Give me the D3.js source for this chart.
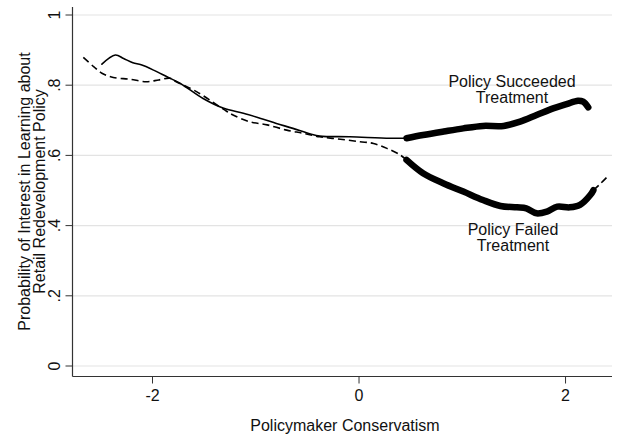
<!DOCTYPE html>
<html>
<head>
<meta charset="utf-8">
<script src="https://cdn.jsdelivr.net/npm/d3@7"></script>
<style>
  body { margin: 0; background: #fff; }
  svg text { font-family: "Liberation Sans", Arial, sans-serif; fill: #111; }
</style>
</head>
<body>
<svg width="618" height="436"></svg>
<script>
// tick values
var xTicks = [-2, 0, 2];
var yTicks = [0, 0.2, 0.4, 0.6, 0.8, 1];
var yTickLabels = ["0", ".2", ".4", ".6", ".8", "1"];

// Policy succeeded treatment (solid), thin part then thick part
var succThinX = [-2.49, -2.36, -2.28, -2.19, -2.11, -1.99, -1.86, -1.73, -1.51, -1.31, -1.12, -0.96, -0.80, -0.64, -0.47, -0.38, -0.09, 0.30, 0.46];
var succThinY = [0.860, 0.886, 0.876, 0.864, 0.858, 0.843, 0.824, 0.805, 0.762, 0.734, 0.720, 0.706, 0.691, 0.677, 0.661, 0.655, 0.653, 0.649, 0.649];
var succThickX = [0.46, 0.62, 0.82, 1.01, 1.20, 1.40, 1.56, 1.72, 1.88, 2.01, 2.12, 2.17, 2.22];
var succThickY = [0.649, 0.658, 0.668, 0.677, 0.684, 0.684, 0.696, 0.715, 0.734, 0.746, 0.756, 0.753, 0.737];

// Policy failed treatment (dashed), thin, thick, thin tail
var failThinX = [-2.67, -2.57, -2.49, -2.38, -2.22, -2.06, -1.94, -1.83, -1.77, -1.57, -1.31, -1.22, -1.06, -0.89, -0.70, -0.54, -0.38, -0.18, 0.01, 0.14, 0.27, 0.40, 0.46];
var failThinY = [0.879, 0.853, 0.834, 0.822, 0.817, 0.810, 0.815, 0.820, 0.810, 0.781, 0.731, 0.715, 0.696, 0.687, 0.672, 0.663, 0.653, 0.646, 0.639, 0.634, 0.620, 0.601, 0.587];
var failThickX = [0.46, 0.62, 0.82, 1.01, 1.20, 1.37, 1.53, 1.62, 1.72, 1.82, 1.92, 2.04, 2.14, 2.24, 2.27];
var failThickY = [0.587, 0.549, 0.520, 0.497, 0.473, 0.456, 0.452, 0.449, 0.435, 0.440, 0.454, 0.452, 0.459, 0.487, 0.501];
var failTailX = [2.27, 2.34, 2.42];
var failTailY = [0.501, 0.520, 0.544];

var svg = d3.select("svg");

var x = d3.scaleLinear().domain([-2.77, 2.45]).range([73, 612]);
var y = d3.scaleLinear().domain([0, 1]).range([366, 15]);

var axisY = 376.5, axisX = 72.5;

// 网格线
svg.append("g").selectAll("line")
  .data(yTicks)
  .enter().append("line")
  .attr("x1", axisX).attr("x2", 612)
  .attr("y1", function (d) { return y(d); })
  .attr("y2", function (d) { return y(d); })
  .style("stroke", "#e3e3e3")
  .style("stroke-width", 1.2);

// y 轴
svg.append("line")
  .attr("x1", axisX).attr("x2", axisX)
  .attr("y1", 7).attr("y2", axisY)
  .style("stroke", "#333").style("stroke-width", 1.2);

svg.append("g").selectAll("line")
  .data(yTicks)
  .enter().append("line")
  .attr("x1", axisX - 7).attr("x2", axisX)
  .attr("y1", function (d) { return y(d); })
  .attr("y2", function (d) { return y(d); })
  .style("stroke", "#333");

svg.append("g").selectAll("text")
  .data(yTicks)
  .enter().append("text")
  .attr("transform", function (d) { return "translate(60," + y(d) + ") rotate(-90)"; })
  .attr("text-anchor", "middle")
  .style("font-size", "16px")
  .text(function (d, i) { return yTickLabels[i]; });

// y 轴标题
svg.append("text")
  .attr("transform", "translate(30,191.5) rotate(-90)")
  .attr("text-anchor", "middle")
  .style("font-size", "16px")
  .text("Probability of Interest in Learning about");
svg.append("text")
  .attr("transform", "translate(45,191.5) rotate(-90)")
  .attr("text-anchor", "middle")
  .style("font-size", "16px")
  .text("Retail Redevelopment Policy");

// x 轴
svg.append("line")
  .attr("x1", axisX).attr("x2", 612)
  .attr("y1", axisY).attr("y2", axisY)
  .style("stroke", "#333").style("stroke-width", 1.2);

svg.append("g").selectAll("line")
  .data(xTicks)
  .enter().append("line")
  .attr("x1", function (d) { return x(d); })
  .attr("x2", function (d) { return x(d); })
  .attr("y1", axisY).attr("y2", axisY + 7)
  .style("stroke", "#333");

svg.append("g").selectAll("text")
  .data(xTicks)
  .enter().append("text")
  .attr("x", function (d) { return x(d); })
  .attr("y", 401)
  .attr("text-anchor", "middle")
  .style("font-size", "16px")
  .text(function (d) { return d; });

svg.append("text")
  .attr("x", 345)
  .attr("y", 431)
  .attr("text-anchor", "middle")
  .style("font-size", "16px")
  .text("Policymaker Conservatism");

// 曲线
function pts(xs, ys) {
  return xs.map(function (v, i) { return [v, ys[i]]; });
}
var line = d3.line()
  .x(function (d) { return x(d[0]); })
  .y(function (d) { return y(d[1]); })
  .curve(d3.curveCatmullRom);

function draw(data, width, dash) {
  svg.append("path")
    .datum(data)
    .attr("d", line)
    .style("fill", "none")
    .style("stroke", "#000")
    .style("stroke-width", width)
    .style("stroke-linejoin", "round")
    .style("stroke-linecap", dash ? "butt" : "round")
    .style("stroke-dasharray", dash ? "7,4" : null);
}

draw(pts(succThinX, succThinY), 1.6, false);
draw(pts(failThinX, failThinY), 1.6, true);
draw(pts(failTailX, failTailY), 1.6, true);
draw(pts(succThickX, succThickY), 6.5, false);
draw(pts(failThickX, failThickY), 6.5, false);

// 注释
function label(cx, by, lines) {
  lines.forEach(function (t, i) {
    svg.append("text")
      .attr("x", cx).attr("y", by + i * 15.5)
      .attr("text-anchor", "middle")
      .style("font-size", "16px")
      .text(t);
  });
}
label(512, 87, ["Policy Succeeded", "Treatment"]);
label(513, 235, ["Policy Failed", "Treatment"]);
</script>
</body>
</html>
